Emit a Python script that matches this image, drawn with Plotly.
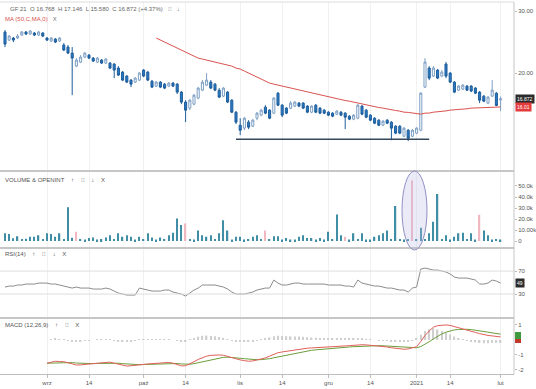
import pandas as pd
import plotly.graph_objects as go
from plotly.subplots import make_subplots

# ---------------- data ----------------
holidays = ['2020-09-07', '2020-11-26', '2020-12-25', '2021-01-01', '2021-01-18']
dates = pd.bdate_range(end='2021-02-01', periods=119, freq='C',
                       holidays=holidays).strftime('%Y-%m-%d').tolist()

open_ = [26.19, 24.85, 25.18, 25.18, 25.68, 26.19, 25.85, 26.02, 25.68, 26.02,
         25.18, 24.69, 25.01, 24.69, 24.05, 23.73, 22.81, 20.94, 21.50, 22.22,
         22.51, 22.07, 21.50, 21.79, 21.36, 21.36, 21.22, 20.67, 20.13, 19.61,
         19.10, 18.85, 19.10, 20.40, 20.13, 18.97, 18.36, 18.85, 18.60, 18.36,
         18.73, 18.60, 17.65, 16.53, 15.89, 16.31, 16.97, 17.88, 18.48, 18.85,
         18.60, 17.88, 17.19, 17.65, 16.74, 15.47, 14.20, 13.93, 14.49, 14.11,
         14.87, 15.17, 15.99, 15.68, 15.37, 17.53, 16.20, 15.89, 15.89, 16.10,
         16.42, 16.42, 16.10, 15.47, 16.20, 15.89, 15.68, 15.47, 15.37, 15.27,
         15.47, 15.37, 15.07, 14.78, 14.87, 16.10, 15.68, 15.17, 14.87, 14.68,
         14.20, 14.68, 14.49, 14.11, 14.11, 13.21, 13.74, 13.21, 13.48, 13.74,
         18.24, 20.67, 19.61, 20.40, 19.61, 21.22, 20.00, 18.85, 17.88, 18.00,
         18.36, 18.36, 18.12, 17.65, 17.19, 16.42, 17.19, 17.53, 16.768]
close = [24.20, 25.51, 24.85, 25.51, 26.19, 25.85, 26.37, 25.68, 26.19, 25.51,
         24.85, 25.18, 24.52, 25.18, 23.27, 22.81, 22.07, 21.79, 22.22, 22.81,
         22.07, 21.64, 22.07, 21.36, 21.93, 20.67, 20.40, 19.74, 19.10, 18.85,
         18.60, 19.35, 20.00, 19.61, 19.10, 18.24, 18.85, 18.24, 18.12, 18.73,
         18.36, 17.65, 16.53, 15.68, 16.74, 17.30, 18.12, 18.85, 19.10, 18.12,
         17.88, 17.08, 18.12, 16.53, 15.47, 14.49, 13.74, 14.87, 14.02, 14.68,
         15.37, 15.68, 15.37, 14.87, 16.97, 16.20, 15.17, 15.37, 16.42, 16.53,
         16.10, 15.89, 15.47, 16.10, 15.47, 15.37, 15.37, 15.17, 15.07, 15.58,
         15.17, 14.97, 14.78, 15.17, 16.20, 15.27, 14.97, 14.68, 14.39, 14.20,
         14.58, 14.39, 13.93, 13.48, 13.48, 13.93, 13.04, 13.74, 13.93, 17.53,
         21.50, 19.35, 20.67, 19.35, 20.13, 19.61, 18.85, 17.65, 18.36, 18.48,
         17.88, 17.77, 17.53, 16.74, 16.63, 17.08, 17.88, 16.17, 16.872]
high = [26.54, 25.68, 25.34, 25.85, 26.37, 26.37, 26.54, 26.19, 26.37, 26.19,
        25.34, 25.34, 25.18, 25.34, 24.36, 24.05, 23.73, 22.07, 22.51, 22.96,
        22.66, 22.22, 22.22, 21.93, 22.07, 21.50, 21.36, 20.94, 20.27, 19.74,
        19.23, 19.48, 20.13, 20.53, 20.27, 19.10, 18.97, 18.97, 18.73, 18.85,
        18.85, 18.73, 17.77, 16.74, 16.85, 17.42, 18.24, 19.10, 20.00, 19.10,
        18.73, 18.12, 18.24, 17.77, 16.85, 15.58, 14.87, 14.97, 14.68, 14.78,
        15.47, 15.78, 16.20, 15.78, 17.08, 17.65, 16.31, 15.99, 16.63, 16.63,
        16.53, 16.53, 16.20, 16.20, 16.31, 15.99, 15.78, 15.58, 15.47, 15.68,
        15.58, 15.47, 15.17, 15.27, 16.31, 16.20, 15.78, 15.27, 14.97, 14.78,
        14.68, 14.78, 14.58, 14.20, 14.20, 14.02, 13.84, 13.84, 14.02, 17.65,
        22.07, 20.94, 20.94, 20.53, 20.40, 21.50, 20.13, 18.97, 18.48, 18.60,
        18.48, 18.48, 18.24, 17.77, 17.30, 17.19, 19.10, 17.65, 17.146]
low = [23.73, 24.69, 24.52, 25.01, 25.51, 25.68, 25.68, 25.51, 25.51, 25.34,
       24.69, 24.52, 24.36, 24.52, 23.11, 22.66, 17.30, 20.81, 21.36, 22.07,
       21.93, 21.50, 21.36, 21.22, 21.22, 20.53, 19.35, 19.61, 18.97, 18.73,
       18.24, 18.73, 18.97, 19.48, 18.97, 18.12, 18.24, 18.12, 18.00, 18.24,
       18.24, 17.42, 16.31, 14.49, 15.68, 16.20, 16.85, 17.77, 18.36, 18.00,
       17.77, 16.97, 17.08, 16.42, 15.37, 14.30, 13.30, 13.74, 13.84, 14.02,
       14.68, 15.07, 15.27, 14.78, 15.27, 16.10, 14.97, 15.27, 15.78, 15.99,
       15.99, 15.78, 15.37, 15.37, 15.37, 15.27, 15.27, 15.07, 14.97, 15.17,
       15.07, 13.84, 14.68, 14.68, 14.78, 15.17, 14.87, 14.58, 14.30, 14.11,
       14.11, 14.30, 12.87, 13.39, 13.39, 13.13, 12.79, 13.13, 13.39, 13.65,
       18.12, 19.10, 19.48, 19.23, 19.48, 19.35, 18.73, 17.53, 17.77, 17.88,
       17.77, 17.65, 17.42, 16.42, 16.53, 16.31, 17.08, 16.10, 15.58]

ma50 = [None] * 36 + [
    25.18, 24.85, 24.52, 24.20, 23.89, 23.58, 23.27, 22.96, 22.66, 22.37,
    22.07, 21.93, 21.79, 21.64, 21.50, 21.36, 21.22, 21.08, 20.94, 20.67,
    20.53, 20.27, 20.00, 19.74, 19.48, 19.23, 18.97, 18.73, 18.60, 18.48,
    18.36, 18.24, 18.12, 18.00, 17.88, 17.77, 17.65, 17.53, 17.42, 17.30,
    17.19, 17.08, 16.97, 16.85, 16.74, 16.70, 16.63, 16.53, 16.42, 16.31,
    16.20, 16.10, 15.99, 15.95, 15.89, 15.78, 15.68, 15.64, 15.58, 15.47,
    15.45, 15.37, 15.35, 15.27, 15.37, 15.38, 15.47, 15.49, 15.58, 15.60,
    15.68, 15.70, 15.78, 15.80, 15.82, 15.89, 15.90, 15.92, 15.99, 15.99,
    16.00, 16.00, 16.01]

support_level = 12.95
support_from, support_to = 55, 101

volume = [7000, 6400, 2500, 4500, 2000, 2200, 3900, 3900, 5300, 2000,
          7000, 6400, 3900, 7000, 2000, 30600, 3000, 8500, 2000, 1500,
          2700, 3300, 1500, 1800, 3300, 5300, 2000, 7000, 3900, 5300,
          3900, 1500, 3900, 2000, 7000, 3300, 1500, 3300, 2000, 5300,
          7600, 20600, 14500, 16000, 2000, 1500, 9700, 5300, 3900, 5300,
          2000, 7000, 19000, 9700, 1500, 3900, 3900, 1500, 2000, 3900,
          5300, 2000, 9700, 2000, 4500, 4500, 1500, 2700, 1500, 1500,
          3900, 5300, 2700, 2700, 1500, 2700, 1500, 8500, 2000, 24200,
          5300, 3900, 1500, 7000, 2000, 7000, 1500, 1500, 3900, 5300,
          7000, 9700, 2000, 31800, 2000, 1500, 2000, 55000, 2000, 12000,
          2000, 7000, 17500, 42700, 2000, 5300, 1500, 3900, 7000, 7600,
          2000, 7000, 1500, 24000, 9700, 5300, 1500, 2000, 1500]
vol_pink = [17, 43, 62, 81, 97, 113]

rsi = [42.2, 43.9, 43.9, 45.7, 45.7, 47.4, 47.4, 47.4, 49.1, 49.1,
       49.1, 47.4, 47.4, 45.7, 43.9, 42.2, 40.4, 42.2, 40.4, 40.4,
       40.4, 38.7, 38.7, 38.7, 40.4, 38.7, 35.2, 31.7, 30.0, 28.3,
       28.3, 28.3, 40.4, 38.7, 37.0, 35.2, 35.2, 35.2, 37.0, 37.0,
       33.5, 31.7, 30.0, 26.5, 31.7, 37.0, 40.4, 45.7, 45.7, 45.7,
       45.7, 43.9, 42.2, 38.7, 33.5, 30.0, 30.0, 30.0, 31.7, 33.5,
       37.0, 38.7, 40.4, 40.4, 54.3, 49.1, 45.7, 45.7, 47.4, 49.1,
       49.1, 47.4, 47.4, 47.4, 47.4, 47.4, 47.4, 45.7, 45.7, 45.7,
       45.7, 43.9, 43.9, 42.2, 54.3, 49.1, 47.4, 45.7, 43.9, 43.9,
       42.2, 40.4, 40.4, 38.7, 37.0, 37.0, 33.5, 40.4, 42.2, 73.5,
       75.2, 73.5, 71.7, 71.7, 70.0, 68.3, 64.8, 59.6, 57.8, 57.8,
       57.8, 56.1, 54.3, 47.4, 47.4, 49.1, 54.3, 52.6, 49.1]

macd = [None] * 10 + [
    -1.55, -1.50, -1.42, -1.44, -1.45, -1.52, -1.62, -1.67, -1.66, -1.62,
    -1.60, -1.58, -1.55, -1.52, -1.50, -1.48, -1.55, -1.62, -1.70, -1.74,
    -1.72, -1.68, -1.63, -1.60, -1.60, -1.58, -1.55, -1.52, -1.50, -1.50,
    -1.55, -1.63, -1.73, -1.72, -1.60, -1.45, -1.30, -1.18, -1.08, -1.03,
    -1.00, -1.00, -1.02, -1.10, -1.20, -1.28, -1.33, -1.38, -1.42, -1.40,
    -1.35, -1.28, -1.20, -1.08, -0.95, -0.85, -0.80, -0.75, -0.70, -0.65,
    -0.60, -0.57, -0.55, -0.53, -0.52, -0.50, -0.48, -0.47, -0.45, -0.43,
    -0.41, -0.40, -0.38, -0.35, -0.33, -0.32, -0.33, -0.35, -0.38, -0.40,
    -0.43, -0.47, -0.52, -0.57, -0.60, -0.62, -0.60, -0.55, -0.45, -0.10,
    0.30, 0.60, 0.85, 0.95, 1.00, 1.00, 0.97, 0.90, 0.82, 0.75,
    0.68, 0.58, 0.50, 0.42, 0.35, 0.30, 0.27, 0.24, 0.20]
signal = [None] * 10 + [
    -1.55, -1.54, -1.52, -1.50, -1.49, -1.49, -1.51, -1.54, -1.56, -1.58,
    -1.58, -1.58, -1.57, -1.56, -1.55, -1.53, -1.53, -1.55, -1.58, -1.61,
    -1.64, -1.65, -1.65, -1.64, -1.63, -1.62, -1.60, -1.58, -1.56, -1.55,
    -1.55, -1.57, -1.60, -1.62, -1.62, -1.58, -1.52, -1.45, -1.37, -1.30,
    -1.24, -1.19, -1.16, -1.15, -1.16, -1.19, -1.22, -1.25, -1.29, -1.31,
    -1.32, -1.31, -1.29, -1.25, -1.19, -1.13, -1.06, -1.00, -0.94, -0.88,
    -0.83, -0.78, -0.73, -0.69, -0.66, -0.63, -0.60, -0.58, -0.55, -0.53,
    -0.51, -0.49, -0.47, -0.45, -0.43, -0.41, -0.39, -0.38, -0.38, -0.38,
    -0.39, -0.41, -0.43, -0.46, -0.49, -0.51, -0.53, -0.54, -0.52, -0.44,
    -0.30, -0.12, 0.07, 0.25, 0.40, 0.52, 0.61, 0.67, 0.70, 0.72,
    0.71, 0.69, 0.66, 0.62, 0.57, 0.52, 0.47, 0.43, 0.39]
hist = [None if m is None else m - s for m, s in zip(macd, signal)]

tick_idx = [10, 20, 33, 43, 56, 66, 77, 87, 98, 106, 118]
tick_text = ['wrz', '14', 'paź', '14', 'lis', '14', 'gru', '14', '2021', '14', 'lut']

for arr in (open_, close, high, low, ma50, volume, rsi, macd, signal):
    assert len(arr) == len(dates), len(arr)

# ---------------- figure ----------------
W, H = 536, 389
ML, MR, MT, MB = 0, 22, 2, 15
PW, PH = W - ML - MR, H - MT - MB


def py(y):  # pixel row -> paper fraction
    return (H - MB - y) / PH


def px(x):
    return (x - ML) / PW


FONT = 'Liberation Sans, Arial, sans-serif'
fig = make_subplots(rows=4, cols=1, shared_xaxes=True, vertical_spacing=0.0)

fig.add_trace(go.Candlestick(
    x=dates, open=open_, high=high, low=low, close=close,
    increasing=dict(line=dict(color='#7d9fc4', width=1), fillcolor='#ffffff'),
    decreasing=dict(line=dict(color='#1d5d9b', width=1), fillcolor='#2a7bc4'),
    whiskerwidth=0, hoverinfo='skip'), row=1, col=1)
fig.add_trace(go.Scatter(x=dates, y=ma50, mode='lines',
                         line=dict(color='#d9534f', width=1)), row=1, col=1)
fig.add_trace(go.Scatter(x=[dates[support_from], dates[support_to]],
                         y=[support_level, support_level], mode='lines',
                         line=dict(color='#34495e', width=1.3)), row=1, col=1)

vol_colors = ['#f2b8c0' if i in vol_pink else '#3f8ea6' for i in range(len(volume))]
fig.add_trace(go.Bar(x=dates, y=volume, marker_color=vol_colors,
                     marker_line_width=0, width=0.3), row=2, col=1)

fig.add_trace(go.Scatter(x=dates, y=rsi, mode='lines',
                         line=dict(color='#8c8c8c', width=1)), row=3, col=1)

fig.add_trace(go.Bar(x=dates, y=hist, marker_color='#cfcfcf',
                     marker_line_width=0, width=0.35), row=4, col=1)
fig.add_trace(go.Scatter(x=dates, y=signal, mode='lines',
                         line=dict(color='#6b9e3c', width=1)), row=4, col=1)
fig.add_trace(go.Scatter(x=dates, y=macd, mode='lines',
                         line=dict(color='#e0605a', width=1)), row=4, col=1)

fig.update_xaxes(type='category', range=[-1.19, 121.19], showgrid=True,
                 gridcolor='#f1f1f1', gridwidth=1, zeroline=False,
                 tickvals=[dates[i] for i in tick_idx], ticktext=tick_text,
                 tickfont=dict(size=6, color='#555', family=FONT),
                 ticks='', showline=False, automargin=False,
                 rangeslider_visible=False)
fig.update_xaxes(row=4, col=1, showline=True, linecolor='#bdbdbd',
                 ticks='outside', ticklen=3, tickcolor='#bdbdbd')
fig.update_yaxes(side='right', showgrid=False, zeroline=False, automargin=False,
                 tickfont=dict(size=6, color='#555', family=FONT),
                 ticks='outside', ticklen=2, tickcolor='#bbb')

fig.update_layout(
    yaxis=dict(domain=[0.548, 1.0], type='log', range=[1.0241, 1.5039],
               tickvals=[20, 30], ticktext=['20.00', '30.00']),
    yaxis2=dict(domain=[0.341, 0.543], range=[-5500, 62700],
                tickvals=[0, 10000, 20000, 30000, 40000, 50000],
                ticktext=['0', '10.00k', '20.0k', '30.0k', '40.0k', '50.0k']),
    yaxis3=dict(domain=[0.153, 0.336], range=[-10, 108.3],
                tickvals=[30, 70], ticktext=['30', '70']),
    yaxis4=dict(domain=[0.0, 0.148], range=[-2.27, 1.4],
                tickvals=[-2, -1, 1], ticktext=['-2', '-1', '1']),
    width=W, height=H, margin=dict(l=ML, r=MR, t=MT, b=MB),
    paper_bgcolor='white', plot_bgcolor='white', showlegend=False,
    font=dict(family=FONT, size=6, color='#555'),
)

# RSI guide lines
for lvl in (30, 70):
    fig.add_hline(y=lvl, row=3, col=1, line=dict(color='#dddddd', width=1))

shapes = []
for yy in (171, 248, 318):
    shapes.append(dict(type='line', xref='paper', yref='paper', x0=0, x1=1.0,
                       y0=py(yy), y1=py(yy), line=dict(color='#c6c6c6', width=2)))
shapes.append(dict(type='line', xref='paper', yref='paper', x0=0, x1=1, y0=1, y1=1,
                   line=dict(color='#dcdcdc', width=1)))
shapes.append(dict(type='line', xref='paper', yref='paper', x0=1, x1=1, y0=0, y1=1,
                   line=dict(color='#c6c6c6', width=1)))
# highlighted volume ellipse
shapes.append(dict(type='circle', xref='paper', yref='paper',
                   x0=px(402), x1=px(427), y0=py(250), y1=py(171),
                   fillcolor='rgba(190,190,232,0.3)',
                   line=dict(color='#8f8fc4', width=1)))
# MACD value boxes
shapes.append(dict(type='rect', xref='paper', yref='paper', x0=px(515), x1=px(521),
                   y0=py(339), y1=py(332), fillcolor='#3f9a3f', line_width=0))
shapes.append(dict(type='rect', xref='paper', yref='paper', x0=px(515), x1=px(521),
                   y0=py(343), y1=py(339), fillcolor='#c0392b', line_width=0))
fig.update_layout(shapes=list(fig.layout.shapes) + shapes)

ann = [
    dict(x=px(8), y=py(9), text='GF 21  O 16.768  H 17.146  L 15.580  C 16.872 (+4.37%)   ⁝⁝   ↓',
         font=dict(size=6, color='#666')),
    dict(x=px(3), y=py(19), text='<span style="color:#d9534f">MA (50,C,MA,0)</span>   X',
         font=dict(size=6, color='#777')),
    dict(x=px(3), y=py(180), text='VOLUME &amp; OPENINT    ↑    ⁝⁝    ↓    X',
         font=dict(size=6, color='#555')),
    dict(x=px(3), y=py(254), text='RSI(14)    ↑    ⁝⁝    ↓    X',
         font=dict(size=6, color='#555')),
    dict(x=px(3), y=py(325), text='MACD (12,26,9)    ↑    ⁝⁝    X',
         font=dict(size=6, color='#555')),
]
for a in ann:
    a.update(xref='paper', yref='paper', xanchor='left', yanchor='middle',
             showarrow=False)
ann += [
    dict(xref='paper', yref='paper', x=px(515), y=py(99), xanchor='left', yanchor='middle',
         text='16.872', showarrow=False, bgcolor='#2b2b2b',
         font=dict(size=5, color='white'), borderpad=1),
    dict(xref='paper', yref='paper', x=px(515), y=py(107), xanchor='left', yanchor='middle',
         text='16.01', showarrow=False, bgcolor='#e23b3b',
         font=dict(size=5, color='white'), borderpad=1),
    dict(xref='paper', yref='paper', x=px(515), y=py(283), xanchor='left', yanchor='middle',
         text='49', showarrow=False, bgcolor='#2b2b2b',
         font=dict(size=5, color='white'), borderpad=1),
]
fig.update_layout(annotations=list(fig.layout.annotations) + ann)

fig.write_html('out.html', config={'displayModeBar': False},
               post_script="document.body.style.margin='0';document.body.style.overflow='hidden';")
